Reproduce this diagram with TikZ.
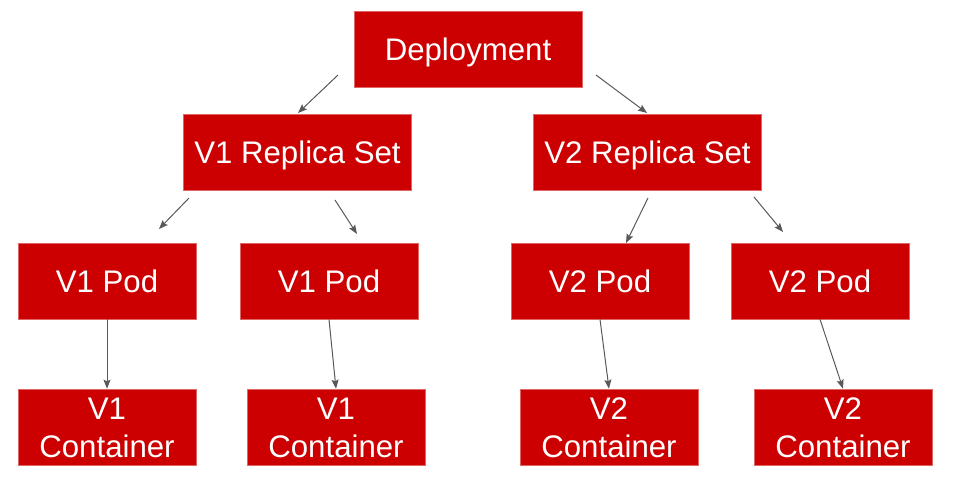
\documentclass[tikz,border=0pt]{standalone}
\usepackage{fontspec}
\setmainfont{Liberation Sans}
\usetikzlibrary{arrows.meta}
\definecolor{boxred}{HTML}{CC0000}
\definecolor{boxedge}{HTML}{E06666}
\definecolor{arrowgray}{HTML}{595959}
\tikzset{
  box/.style={fill=boxred, draw=boxedge, line width=0.6pt, text=white,
    inner sep=0pt, align=center,
    font=\fontsize{31.2}{38}\selectfont},
  wide/.style={box, minimum width=228pt, minimum height=76pt,
    text height=24pt, text depth=0pt},
  small/.style={box, minimum width=178pt, minimum height=76pt,
    text height=24pt, text depth=0pt},
  twoline/.style={box, minimum width=178pt, minimum height=76pt,
    text height=60pt, text depth=0pt},
  conn/.style={draw=arrowgray, line width=1pt,
    -{Stealth[length=9pt,width=7pt,inset=1.5pt]}}
}
\begin{document}
\begin{tikzpicture}[x=1pt,y=-1pt]
\useasboundingbox (0,0) rectangle (956,494);
\node[wide] (dep) at (468,49) {Deployment};
\node[wide] (rs1) at (297.5,152) {V1 Replica Set};
\node[wide] (rs2) at (647.5,152) {V2 Replica Set};
\node[small] (p11) at (107,281) {V1 Pod};
\node[small] (p12) at (329,281) {V1 Pod};
\node[small] (p21) at (600,281) {V2 Pod};
\node[small] (p22) at (820,281) {V2 Pod};
\node[twoline] (c11) at (107,427) {V1\\Container};
\node[twoline] (c12) at (336,427) {V1\\Container};
\node[twoline] (c21) at (609,427) {V2\\Container};
\node[twoline] (c22) at (843,427) {V2\\Container};
% connector end points
\coordinate (a1s) at (338,75);  \coordinate (a1e) at (298,113);
\coordinate (a2s) at (596,75);  \coordinate (a2e) at (647,113);
\coordinate (a3s) at (189,198); \coordinate (a3e) at (159,229);
\coordinate (a4s) at (335,200); \coordinate (a4e) at (357,234);
\coordinate (a5s) at (648,198); \coordinate (a5e) at (626,243);
\coordinate (a6s) at (754,197); \coordinate (a6e) at (783,232);
\draw[conn] (a1s) -- (a1e);
\draw[conn] (a2s) -- (a2e);
\draw[conn] (a3s) -- (a3e);
\draw[conn] (a4s) -- (a4e);
\draw[conn] (a5s) -- (a5e);
\draw[conn] (a6s) -- (a6e);
\draw[conn] (p11.south) -- (c11.north);
\draw[conn] (p12.south) -- (c12.north);
\draw[conn] (p21.south) -- (c21.north);
\draw[conn] (p22.south) -- (c22.north);
\end{tikzpicture}
\end{document}
